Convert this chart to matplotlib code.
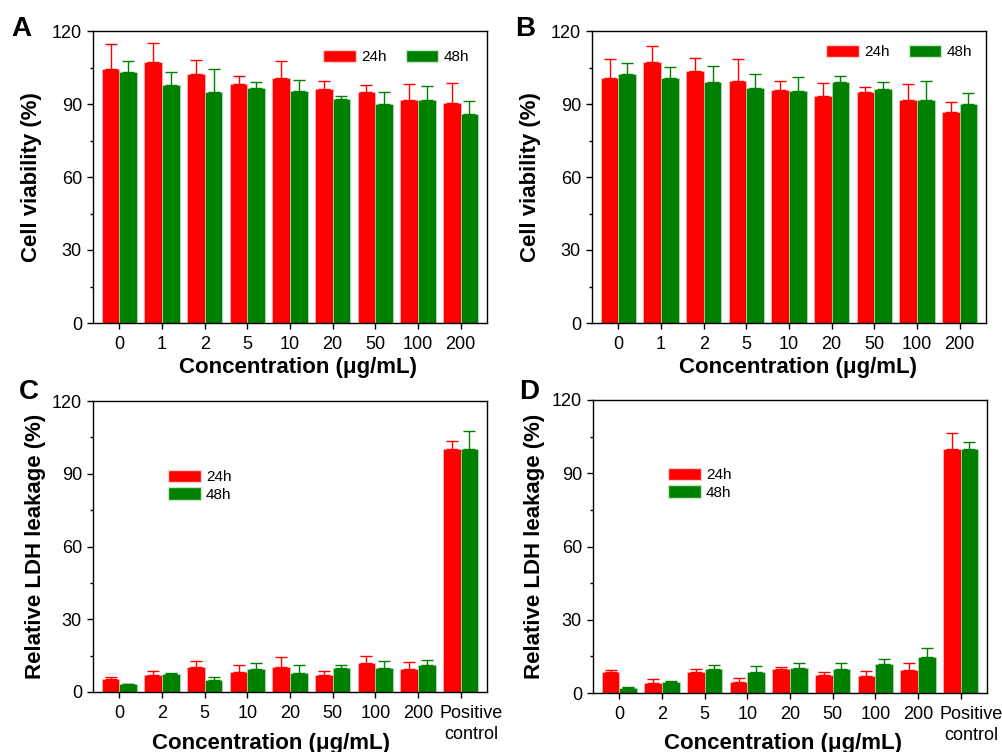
import matplotlib
matplotlib.use("Agg")
import matplotlib.pyplot as plt
import matplotlib.transforms as mtransforms
import numpy as np
from matplotlib.patches import Patch
from matplotlib.ticker import MultipleLocator

plt.rcParams["font.family"] = ["Liberation Sans", "DejaVu Sans"]

RED = "#ff0000"
GREEN = "#008000"

# cell viability (%), mean and upper error
conc_ab = ["0", "1", "2", "5", "10", "20", "50", "100", "200"]
a_24 = [104.4, 107.2, 102.5, 98.4, 100.6, 96.0, 95.0, 91.6, 90.5]
a_24_err = [10.1, 7.7, 5.4, 3.0, 7.0, 3.6, 3.0, 6.7, 8.3]
a_48 = [103.2, 97.7, 95.1, 96.5, 95.2, 91.9, 90.0, 91.5, 85.9]
a_48_err = [4.4, 5.4, 9.3, 2.6, 4.8, 1.4, 5.1, 5.8, 5.5]

b_24 = [100.5, 107.4, 103.6, 99.5, 95.6, 93.1, 94.9, 91.8, 86.6]
b_24_err = [8.0, 6.6, 5.3, 9.0, 4.0, 5.5, 2.1, 6.6, 4.1]
b_48 = [102.3, 100.7, 99.0, 96.7, 95.2, 98.9, 96.0, 91.5, 89.8]
b_48_err = [4.4, 4.4, 6.6, 5.5, 6.0, 2.6, 3.2, 8.0, 4.7]

# LDH leakage (%)
conc_cd = ["0", "2", "5", "10", "20", "50", "100", "200", "Positive\ncontrol"]
c_24 = [5.2, 7.1, 10.3, 8.2, 10.3, 7.1, 11.8, 9.5, 100.1]
c_24_err = [1.1, 1.5, 2.5, 3.0, 4.2, 1.4, 3.0, 2.7, 3.2]
c_48 = [3.2, 7.5, 4.8, 9.5, 8.0, 9.7, 9.7, 11.2, 100.1]
c_48_err = [0.3, 0.3, 1.5, 2.4, 3.1, 1.5, 3.2, 2.1, 7.6]

d_24 = [8.5, 4.2, 8.5, 4.4, 9.7, 7.2, 6.8, 9.6, 100.1]
d_24_err = [0.9, 1.4, 1.3, 1.9, 0.8, 1.4, 2.1, 2.7, 6.3]
d_48 = [2.2, 4.6, 10.0, 8.6, 10.1, 9.8, 12.0, 14.6, 100.1]
d_48_err = [0.4, 0.5, 1.5, 2.3, 2.2, 2.6, 2.1, 3.8, 2.8]

W, H = 1003, 752
fig = plt.figure(figsize=(W / 100, H / 100), dpi=100)


def panel(box, letter, letter_xy, cats, v24, e24, v48, e48, ylabel,
          ylab_x, xlab_xy, ncol, leg_xy):
    # box given in pixels: left, top, right, bottom
    l, t, r, b = box
    ax = fig.add_axes([l / W, 1 - b / H, (r - l) / W, (b - t) / H])
    x = np.arange(len(cats))
    w = 0.415
    err_kw = dict(capsize=4, elinewidth=1.0, capthick=1.0)
    ax.bar(x - w / 2, v24, w, color=RED, edgecolor="#ffd0d0", linewidth=0.4,
           yerr=[np.zeros(len(e24)), e24], ecolor=RED, error_kw=err_kw)
    ax.bar(x + w / 2, v48, w, color=GREEN, edgecolor="#c8e8c8", linewidth=0.4,
           yerr=[np.zeros(len(e48)), e48], ecolor=GREEN, error_kw=err_kw)
    ax.set_xlim(-0.62, len(cats) - 1 + 0.62)
    ax.set_ylim(0, 120)
    ax.yaxis.set_major_locator(MultipleLocator(30))
    ax.yaxis.set_minor_locator(MultipleLocator(15))
    ax.set_xticks(x)
    ax.set_xticklabels(cats, linespacing=1.3)
    ax.tick_params(axis="both", which="major", direction="out", length=4.5,
                   width=1, labelsize=13, pad=3.5)
    ax.tick_params(axis="y", which="minor", direction="out", length=2.5, width=1)
    ax.tick_params(axis="x", which="major", pad=5)
    # "Positive control" sits a little right of its tick
    last = ax.get_xticklabels()[-1]
    if "\n" in last.get_text():
        shift = mtransforms.ScaledTranslation(0.11, 0, fig.dpi_scale_trans)
        last.set_transform(last.get_transform() + shift)
    for s in ax.spines.values():
        s.set_linewidth(1.0)
    ax.set_ylabel(ylabel, fontsize=16, fontweight="bold", va="center")
    ax.yaxis.set_label_coords((ylab_x - l) / (r - l), 0.5)
    ax.set_xlabel("Concentration (\u03bcg/mL)", fontsize=16, fontweight="bold",
                  va="center")
    ax.xaxis.set_label_coords((xlab_xy[0] - l) / (r - l),
                              (b - xlab_xy[1]) / (b - t))
    handles = [Patch(facecolor=RED, edgecolor="#ffd0d0", label="24h"),
               Patch(facecolor=GREEN, edgecolor="#c8e8c8", label="48h")]
    ax.legend(handles=handles, ncol=ncol, frameon=False, fontsize=11,
              loc="upper left",
              bbox_to_anchor=((leg_xy[0] - l) / (r - l), (b - leg_xy[1]) / (b - t)),
              handlelength=2.15, handleheight=0.85, handletextpad=0.35,
              columnspacing=1.25, labelspacing=0.22, borderpad=0.4)
    fig.text(letter_xy[0] / W, 1 - letter_xy[1] / H, letter,
             fontsize=20, fontweight="bold", ha="left", va="center")
    return ax


panel((93, 31, 487, 323), "A", (11, 29), conc_ab, a_24, a_24_err,
      a_48, a_48_err, "Cell viability (%)", 31, (298, 368), 2, (309, 36))
panel((592, 31, 986, 323), "B", (515, 29), conc_ab, b_24, b_24_err,
      b_48, b_48_err, "Cell viability (%)", 531, (798, 368), 2, (812, 31))
panel((93, 401, 487, 692), "C", (19, 392), conc_cd, c_24, c_24_err,
      c_48, c_48_err, "Relative LDH leakage (%)", 35, (271, 743), 1, (154, 456))
panel((593, 400, 987, 693), "D", (519, 392), conc_cd, d_24, d_24_err,
      d_48, d_48_err, "Relative LDH leakage (%)", 535, (783, 743), 1, (654, 454))

fig.savefig("out.png", dpi=100)
